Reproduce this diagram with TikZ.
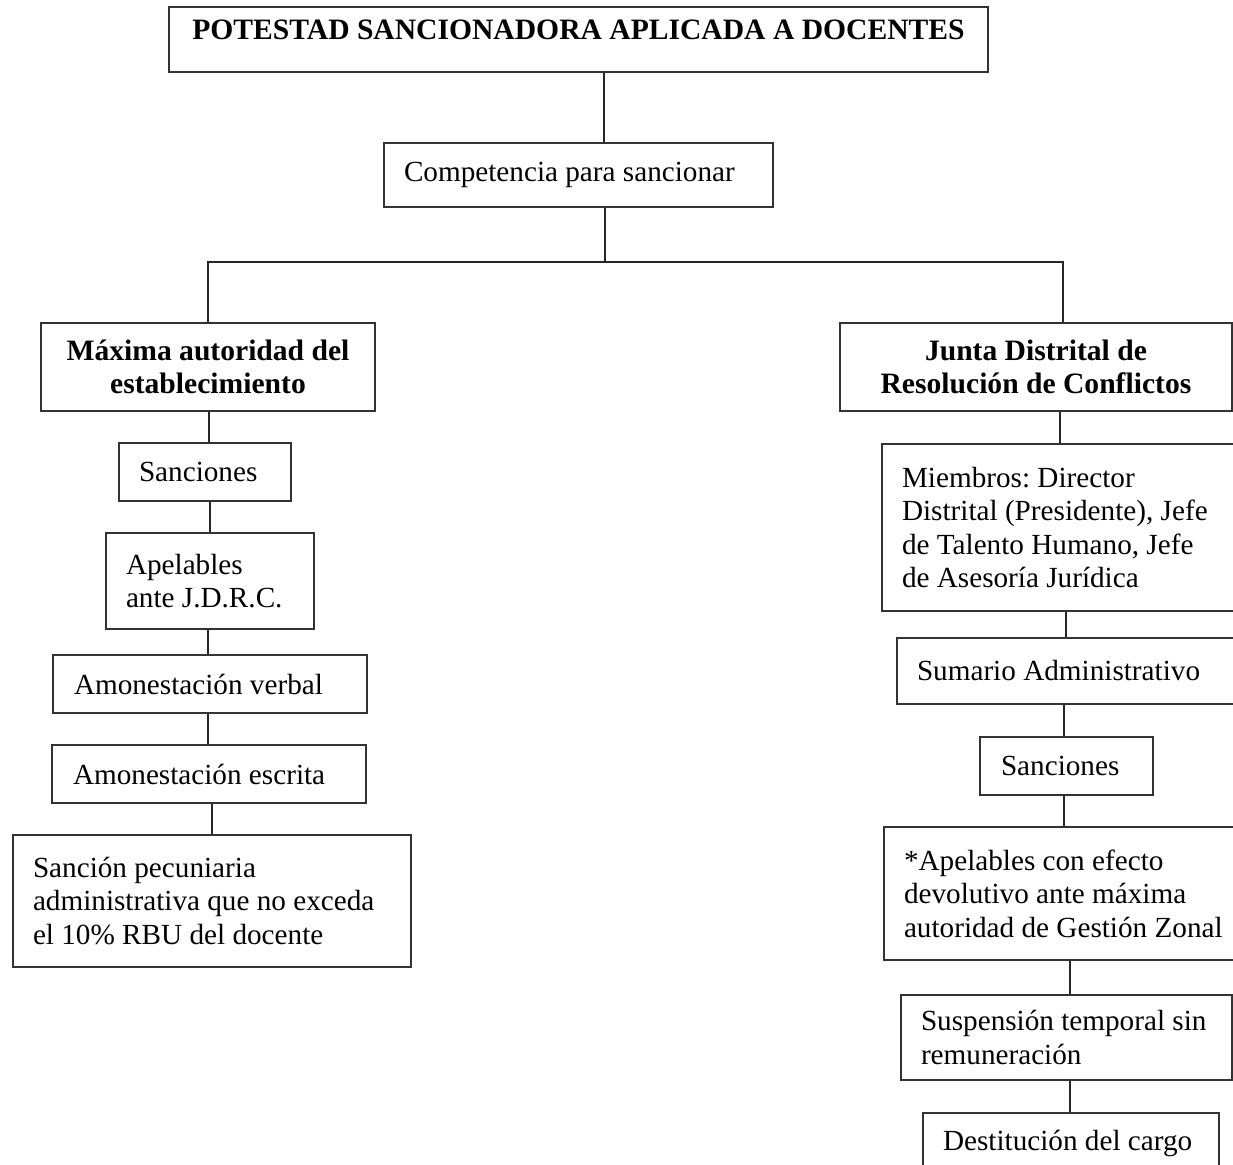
\documentclass[tikz,border=0pt]{standalone}
\usepackage{fontspec}
\setmainfont{Liberation Serif}
\usetikzlibrary{calc}

\tikzset{
  caja/.style n args={3}{%
    draw=black!80, line width=1pt, anchor=north west,
    minimum width=#1*0.5pt, minimum height=#2*0.5pt,
    inner xsep=#3*0.5pt, inner ysep=0pt,
    text width={(#1-2*#3)*0.5pt}, align=flush left,
    font=\fontsize{14.6}{16.7}\selectfont\frenchspacing},
  negrita/.style={align=flush center, font=\fontsize{14.8}{16.7}\selectfont\bfseries\frenchspacing},
  conector/.style={draw=black!85, line width=0.7pt}
}

\begin{document}
\begin{tikzpicture}[x=0.5pt, y=-0.5pt]
    \useasboundingbox (0,0) rectangle (1233,1165);
    \clip (0,0) rectangle (1233,1165);

    \node[caja={819}{65}{20}, negrita] (titulo) at (168,6)
      {\raisebox{5pt}[\height][\depth]{POTESTAD SANCIONADORA APLICADA A DOCENTES}};
    \node[caja={389}{64}{20}] (compet) at (383,142) {Competencia para sancionar};

    % rama izquierda
    \node[caja={334}{88}{10}, negrita] (maxima) at (40,322) {Máxima autoridad del\\establecimiento};
    \node[caja={172}{58}{20}] (sancI)   at (118,442) {Sanciones};
    \node[caja={208}{96}{20}] (apelI)   at (105,532) {Apelables\\ante J.D.R.C.};
    \node[caja={314}{58}{21}] (verbal)  at (52,654)  {Amonestación verbal};
    \node[caja={314}{58}{21}] (escrita) at (51,744)  {Amonestación escrita};
    \node[caja={398}{132}{20}] (pecun)  at (12,834)
      {Sanción pecuniaria\\administrativa que no exceda\\el 10\% RBU del docente};

    % rama derecha
    \node[caja={392}{88}{10}, negrita] (junta) at (839,322) {Junta Distrital de\\Resolución de Conflictos};
    \node[caja={370}{167}{20}] (miembros) at (881,443)
      {Miembros: Director\\Distrital (Presidente), Jefe\\de Talento Humano, Jefe\\de Asesoría Jurídica};
    \node[caja={355}{66}{20}] (sumario) at (896,637) {Sumario Administrativo};
    \node[caja={173}{58}{21}] (sancD)   at (979,736) {Sanciones};
    \node[caja={368}{133}{20}] (apelD)  at (883,826)
      {*Apelables con efecto\\devolutivo ante máxima\\autoridad de Gestión Zonal};
    \node[caja={331}{85}{20}] (suspen)  at (900,994) {Suspensión temporal sin\\remuneración};
    \node[caja={296}{60}{20}] (destit)  at (922,1112) {Destitución del cargo};

    \coordinate (rama) at (605,262);
    \draw[conector] (compet.south -| rama) -- (rama);
    \draw[conector] (maxima.north) |- (rama) -| (junta.north -| 1063,0);

    \foreach \a/\b/\x in {titulo/compet/604, maxima/sancI/209, sancI/apelI/210,
                          apelI/verbal/208, verbal/escrita/208, escrita/pecun/212,
                          junta/miembros/1060, miembros/sumario/1066, sumario/sancD/1064,
                          sancD/apelD/1064, apelD/suspen/1070, suspen/destit/1070}
      \draw[conector] (\a.south -| \x,0) -- (\b.north -| \x,0);
\end{tikzpicture}
\end{document}
